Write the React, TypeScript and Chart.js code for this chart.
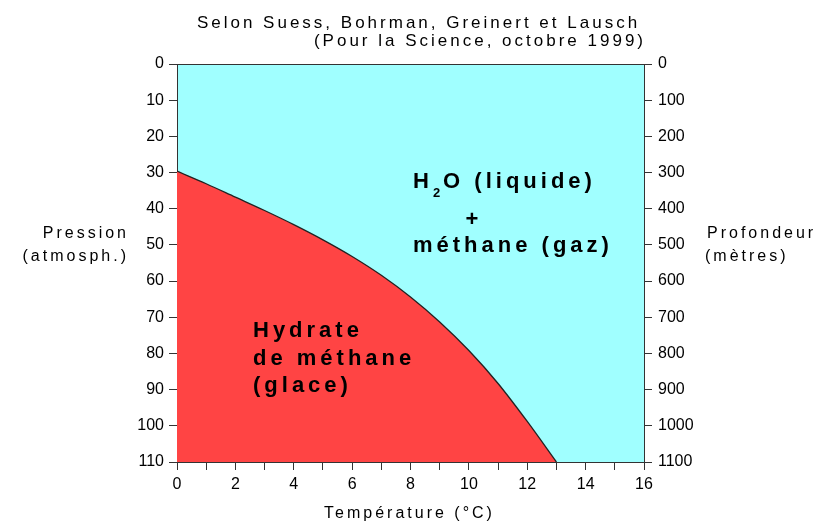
import React, { useEffect, useRef } from 'react';
import { Chart, registerables } from 'chart.js';

Chart.register(...registerables);

// Equilibrium curve: temperature (°C) -> pressure (atm)
const temperatures = [0, 1, 2, 3, 4, 5, 6, 7, 8, 9, 10, 11, 12, 13];
const pressures = [29.6, 33.1, 36.8, 40.5, 44.4, 48.6, 53.2, 58.4, 64.4, 71.3, 79.2, 88.3, 98.8, 110];

const tempRange = [0, 16];
const pressureRange = [0, 110];
const depthRange = [0, 1100];

const titleLines = ['Selon Suess, Bohrman, Greinert et Lausch', '(Pour la Science, octobre 1999)'];
const leftAxisLabel = ['Pression', '(atmosph.)'];
const rightAxisLabel = ['Profondeur', '(mètres)'];
const xAxisLabel = 'Température (°C)';
const hydrateLabel = ['Hydrate', 'de méthane', '(glace)'];

const CYAN = '#A0FFFF';
const RED = '#FF4444';
const AXIS = '#333333';
const FONT = '"Liberation Sans", Arial, sans-serif';

function drawSpaced(ctx: CanvasRenderingContext2D, text: string, x: number, y: number, spacing: number, align: 'left' | 'right' | 'center' = 'left') {
  (ctx as any).letterSpacing = spacing + 'px';
  ctx.textAlign = 'left';
  const w = ctx.measureText(text).width - spacing;
  let sx = x;
  if (align === 'right') sx = x - w;
  else if (align === 'center') sx = x - w / 2;
  ctx.fillText(text, sx, y);
  (ctx as any).letterSpacing = '0px';
  return sx + w + spacing;
}

const bgPlugin = {
  id: 'bgPlugin',
  beforeDraw(chart: any) {
    const { ctx, chartArea } = chart;
    ctx.save();
    ctx.fillStyle = '#ffffff';
    ctx.fillRect(0, 0, chart.width, chart.height);
    ctx.fillStyle = CYAN;
    ctx.fillRect(chartArea.left, chartArea.top, chartArea.right - chartArea.left, chartArea.bottom - chartArea.top);
    ctx.restore();
  },
};

const textPlugin = {
  id: 'textPlugin',
  afterDraw(chart: any) {
    const { ctx, chartArea } = chart;
    ctx.save();
    // top border
    ctx.strokeStyle = AXIS;
    ctx.lineWidth = 1;
    ctx.beginPath();
    ctx.moveTo(chartArea.left, Math.round(chartArea.top) + 0.5);
    ctx.lineTo(chartArea.right, Math.round(chartArea.top) + 0.5);
    ctx.stroke();

    ctx.fillStyle = '#000';
    ctx.textBaseline = 'alphabetic';
    ctx.font = `17px ${FONT}`;
    drawSpaced(ctx, titleLines[0], 417, 28, 3, 'center');
    drawSpaced(ctx, titleLines[1], 643, 46, 3, 'right');

    ctx.font = `16px ${FONT}`;
    drawSpaced(ctx, leftAxisLabel[0], 126, 238, 3, 'right');
    drawSpaced(ctx, leftAxisLabel[1], 126, 261, 3, 'right');
    drawSpaced(ctx, rightAxisLabel[0], 707, 238, 3, 'left');
    drawSpaced(ctx, rightAxisLabel[1], 705, 261, 3, 'left');

    drawSpaced(ctx, xAxisLabel, 408, 518, 3, 'center');

    // in-plot labels
    ctx.font = `bold 22px ${FONT}`;
    let x = drawSpaced(ctx, 'H', 413, 188, 4, 'left');
    ctx.font = `bold 13px ${FONT}`;
    x = drawSpaced(ctx, '2', x, 197, 2, 'left');
    ctx.font = `bold 22px ${FONT}`;
    drawSpaced(ctx, 'O (liquide)', x + 1, 188, 4, 'left');
    drawSpaced(ctx, '+', 472, 226, 0, 'center');
    drawSpaced(ctx, 'méthane (gaz)', 413, 252, 4, 'left');

    drawSpaced(ctx, hydrateLabel[0], 253, 337, 4, 'left');
    drawSpaced(ctx, hydrateLabel[1], 253, 365, 4, 'left');
    drawSpaced(ctx, hydrateLabel[2], 253, 392, 4, 'left');
    ctx.restore();
  },
};

export default function App() {
  const ref = useRef<HTMLCanvasElement | null>(null);

  useEffect(() => {
    document.body.style.margin = '0';
    const canvas = ref.current;
    if (!canvas) return;

    const gridCfg = {
      drawOnChartArea: false,
      drawTicks: true,
      tickLength: 8,
      color: AXIS,
      lineWidth: 1,
    };
    const borderCfg = { color: AXIS, width: 1 };
    const tickFont = { family: FONT, size: 16 };

    const chart = new Chart(canvas, {
      type: 'line',
      data: {
        datasets: [
          {
            data: temperatures.map((t, i) => ({ x: t, y: pressures[i] })),
            borderColor: '#222222',
            borderWidth: 1.3,
            backgroundColor: RED,
            fill: { value: pressureRange[1] },
            pointRadius: 0,
            cubicInterpolationMode: 'monotone',
            yAxisID: 'y',
          },
        ],
      },
      options: {
        responsive: false,
        animation: false,
        devicePixelRatio: 1,
        layout: { padding: { top: 64, left: 0, right: 0, bottom: 0 } },
        plugins: {
          legend: { display: false },
          tooltip: { enabled: false },
          title: { display: false },
        },
        scales: {
          x: {
            type: 'linear',
            min: tempRange[0],
            max: tempRange[1],
            grid: gridCfg,
            border: borderCfg,
            ticks: {
              stepSize: 1,
              autoSkip: false,
              maxRotation: 0,
              color: '#000',
              font: tickFont,
              padding: 5,
              callback: (v: any) => (Number(v) % 2 === 0 ? String(v) : ''),
            },
            afterFit: (s: any) => {
              s.height = 521 - 462;
            },
          },
          y: {
            type: 'linear',
            position: 'left',
            reverse: true,
            min: pressureRange[0],
            max: pressureRange[1],
            grid: gridCfg,
            border: borderCfg,
            ticks: { stepSize: 10, color: '#000', font: tickFont, padding: 5, callback: (v: any) => String(v) },
            afterFit: (s: any) => {
              s.width = 177;
            },
          },
          y2: {
            type: 'linear',
            position: 'right',
            reverse: true,
            min: depthRange[0],
            max: depthRange[1],
            grid: gridCfg,
            border: borderCfg,
            ticks: { stepSize: 100, color: '#000', font: tickFont, padding: 6, callback: (v: any) => String(v) },
            afterFit: (s: any) => {
              s.width = 822 - 644;
            },
          },
        },
      } as any,
      plugins: [bgPlugin, textPlugin],
    });

    return () => chart.destroy();
  }, []);

  return (
    <div style={{ width: 822, height: 521 }}>
      <canvas ref={ref} width={822} height={521} style={{ display: 'block' }} />
    </div>
  );
}
